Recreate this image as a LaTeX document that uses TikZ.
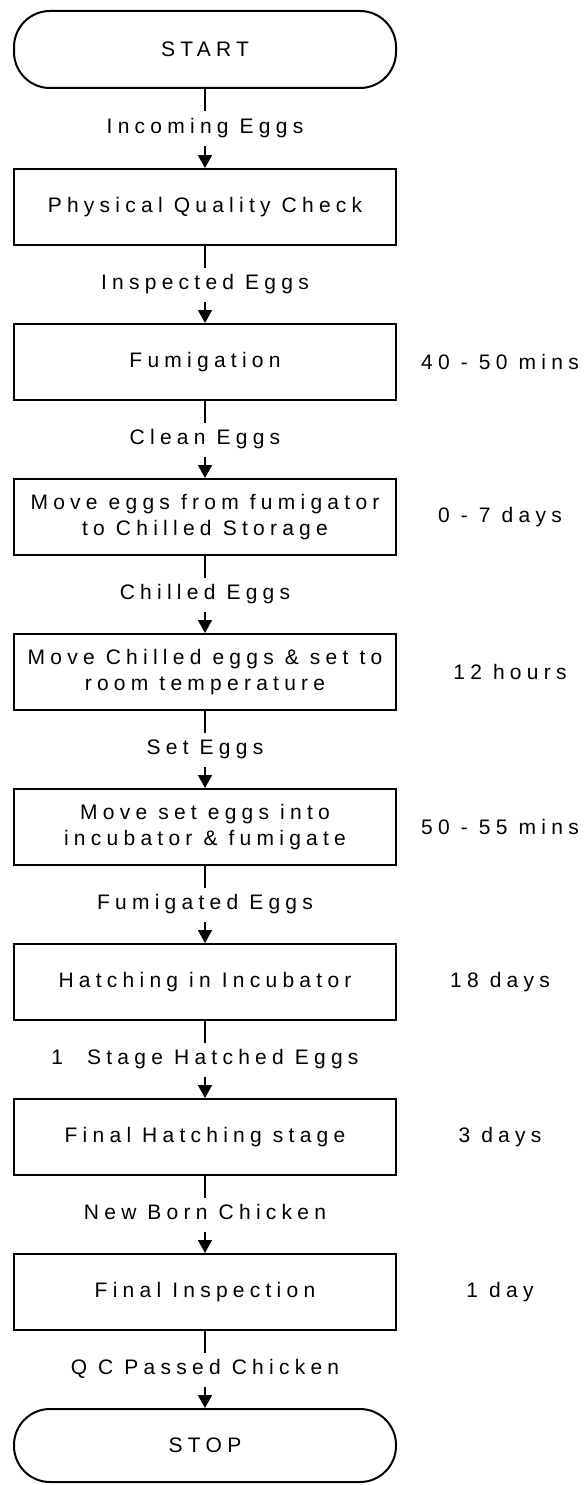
\documentclass[tikz,border=0pt]{standalone}
\usepackage{fontspec}
\setmainfont{Liberation Sans}[LetterSpace=25]
\usetikzlibrary{arrows.meta, positioning}
\newcommand{\schrift}{\fontsize{21pt}{26pt}\selectfont}
\tikzset{
  box/.style={draw, line width=2pt, align=center, inner sep=2pt, minimum width=382pt, minimum height=76pt, font=\schrift},
  ende/.style={box, rounded corners=36pt},
  pfeil/.style={-{Triangle[width=14pt, length=13pt]}, line width=1.8pt},
  etikett/.style={fill=white, inner xsep=3pt, inner ysep=8pt, text height=14pt, text depth=4pt, font=\schrift},
  dauer/.style={font=\schrift},
}

\begin{document}
\begin{tikzpicture}[x=1pt, y=1pt, node distance=77pt]
    \useasboundingbox (0,0) rectangle (585,-1485);

    \node[ende, minimum height=77pt] (ST) at (205,-49.5) {START};
    \node[box, below=79pt of ST] (QC) {Physical Quality Check};
    \node[box, below=of QC] (FU) {Fumigation};
    \node[box, below=of FU] (CS) {Move eggs from fumigator\\to Chilled Storage};
    \node[box, below=of CS] (RT) {Move Chilled eggs \& set to\\room temperature};
    \node[box, below=of RT] (IN) {Move set eggs into\\incubator \& fumigate};
    \node[box, below=of IN] (HA) {Hatching in Incubator};
    \node[box, below=of HA] (FH) {Final Hatching stage};
    \node[box, below=of FH] (FI) {Final Inspection};
    \node[ende, minimum height=73pt, below=of FI] (SP) {STOP};

    % durations
    \node[dauer] at ([xshift=295pt]FU.center) {40 - 50 mins};
    \node[dauer] at ([xshift=295pt]CS.center) {0 - 7 days};
    \node[dauer] at ([xshift=305pt]RT.center) {12 hours};
    \node[dauer] at ([xshift=295pt]IN.center) {50 - 55 mins};
    \node[dauer] at ([xshift=295pt]HA.center) {18 days};
    \node[dauer] at ([xshift=295pt]FH.center) {3 days};
    \node[dauer] at ([xshift=295pt]FI.center) {1 day};

    \draw[pfeil] (ST) -- node[etikett]{Incoming Eggs} (QC);
    \draw[pfeil] (QC) -- node[etikett]{Inspected Eggs} (FU);
    \draw[pfeil] (FU) -- node[etikett]{Clean Eggs} (CS);
    \draw[pfeil] (CS) -- node[etikett]{Chilled Eggs} (RT);
    \draw[pfeil] (RT) -- node[etikett]{Set Eggs} (IN);
    \draw[pfeil] (IN) -- node[etikett]{Fumigated Eggs} (HA);
    \draw[pfeil] (HA) -- node[etikett]{1\hspace{24pt}Stage Hatched Eggs} (FH);
    \draw[pfeil] (FH) -- node[etikett]{New Born Chicken} (FI);
    \draw[pfeil] (FI) -- node[etikett]{Q C Passed Chicken} (SP);
  \end{tikzpicture}
\end{document}
